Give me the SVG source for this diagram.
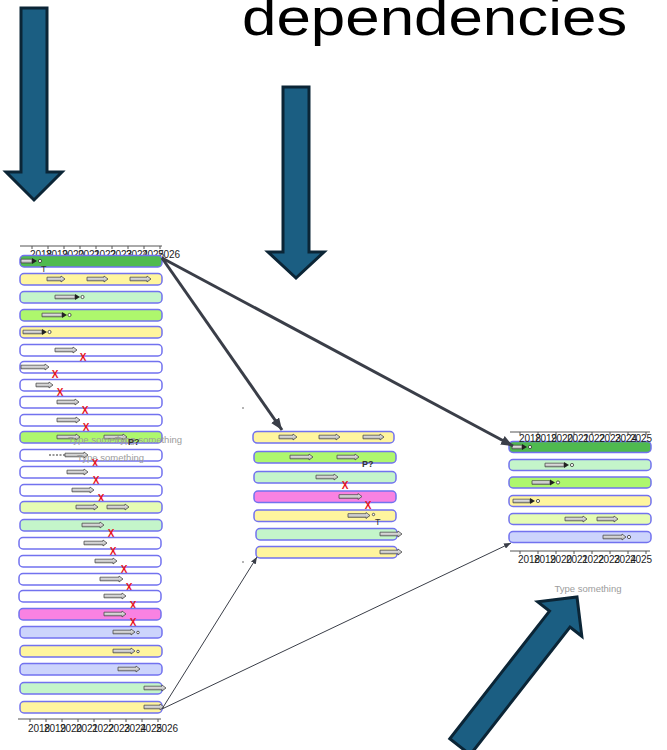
<svg xmlns="http://www.w3.org/2000/svg" width="667" height="750" viewBox="0 0 667 750">
  <defs>
    <linearGradient id="chip" x1="0" y1="0" x2="0" y2="1">
      <stop offset="0" stop-color="#f4f4f4"/>
      <stop offset="1" stop-color="#a9a9a9"/>
    </linearGradient>
    <marker id="headThick" viewBox="0 0 10 8" refX="10" refY="4" markerUnits="userSpaceOnUse" markerWidth="12" markerHeight="10" orient="auto">
      <path d="M0,0 L10,4 L0,8 Z" fill="#3a3e48"/>
    </marker>
    <marker id="headThin" viewBox="0 0 10 8" refX="10" refY="4" markerUnits="userSpaceOnUse" markerWidth="7" markerHeight="6" orient="auto">
      <path d="M0,0 L10,4 L0,8 Z" fill="#3a3e48"/>
    </marker>
  </defs>
  <style>
    .row{stroke:#7272ef;stroke-width:1.5}
    .dg{fill:#4fba4f}.yl{fill:#fff59e}.lg{fill:#c4f5ca}.lm{fill:#aef76d}
    .wh{fill:#ffffff}.pyg{fill:#e5fcb3}.pk{fill:#f982e2}.lv{fill:#ccd4fc}
    .chip{fill:url(#chip);stroke:#4a4a4a;stroke-width:0.8;stroke-linejoin:round}
    .tri{fill:#222}
    .dot{fill:#fff;stroke:#333;stroke-width:0.8}
    .yr{font-family:"Liberation Sans",Arial,sans-serif;font-size:10px;fill:#222;text-anchor:middle}
    .ax{stroke:#555;stroke-width:1;fill:none}
    .xm{font-family:"Liberation Sans",Arial,sans-serif;font-size:10px;font-weight:bold;fill:#e8141e;text-anchor:middle;dominant-baseline:central}
    .lbl{font-family:"Liberation Sans",Arial,sans-serif;font-size:9px;fill:#333}
    .ph{font-family:"Liberation Sans",Arial,sans-serif;font-size:9.5px;fill:#9c9c9c}
    .big{fill:#1b5e82;stroke:#0b2536;stroke-width:3;stroke-linejoin:miter}
    .thick{stroke:#3a3e48;stroke-width:3;fill:none}
    .thin{stroke:#3a3e48;stroke-width:1;fill:none}
  </style>

  <!-- heading, widened glyphs -->
  <text transform="translate(242,35) scale(1.19,1)" x="0" y="0" font-family="'Liberation Sans',Arial,sans-serif" font-size="52" fill="#000">dependencies</text>

  <!-- large pointer arrows -->
  <g id="pointer-left"><polygon class="big" points="21,8 47,8 47,172 62,172 34,200 6,172 21,172"/></g>
  <g id="pointer-middle"><polygon class="big" points="283,87 309,87 309,252 324,252 296,278 268,252 283,252"/></g>
  <g id="pointer-right"><polygon class="big" transform="translate(577,597) rotate(38)" points="0,0 28,28 13,28 13,190 -13,190 -13,28 -28,28"/></g>

  <!-- full timeline (left) -->
  <g id="timeline-full">
    <g id="axis-full-top">
      <path class="ax" d="M20,246 H162 M32,246 v3 M48,246 v3 M64,246 v3 M80,246 v3 M96,246 v3 M112,246 v3 M128,246 v3 M144,246 v3 M160,246 v3"/>
      <text class="yr" x="41" y="258">2018</text><text class="yr" x="57" y="258">2019</text><text class="yr" x="73" y="258">2020</text>
      <text class="yr" x="89" y="258">2021</text><text class="yr" x="105" y="258">2022</text><text class="yr" x="121" y="258">2023</text>
      <text class="yr" x="137" y="258">2024</text><text class="yr" x="153" y="258">2025</text><text class="yr" x="169" y="258">2026</text>
    </g>
    <g id="f01"><rect class="row dg" x="20" y="255.5" width="142" height="11.5" rx="4"/>
      <path class="chip" d="M21,259.2 H32 V263 H21 Z"/><path class="tri" d="M32,258 L37,261 L32,264 Z"/><circle class="dot" cx="40" cy="261" r="1.6"/>
      <text class="lbl" x="41" y="272">T</text></g>
    <g id="f02"><rect class="row yl" x="20" y="273.5" width="142" height="11.5" rx="4"/>
      <path class="chip" d="M47,277.2 H61 V276 L65,279 L61,282 V280.8 H47 Z"/>
      <path class="chip" d="M87,277.2 H104 V276 L108,279 L104,282 V280.8 H87 Z"/>
      <path class="chip" d="M130,277.2 H147 V276 L151,279 L147,282 V280.8 H130 Z"/></g>
    <g id="f03"><rect class="row lg" x="20" y="291.5" width="142" height="11.5" rx="4"/>
      <path class="chip" d="M55,295.2 H75 V298.8 H55 Z"/><path class="tri" d="M75,294 L80,297 L75,300 Z"/><circle class="dot" cx="82.5" cy="297" r="1.6"/></g>
    <g id="f04"><rect class="row lm" x="20" y="309.5" width="142" height="11.5" rx="4"/>
      <path class="chip" d="M42,313.2 H62 V316.8 H42 Z"/><path class="tri" d="M62,312 L67,315 L62,318 Z"/><circle class="dot" cx="69.5" cy="315" r="1.6"/></g>
    <g id="f05"><rect class="row yl" x="20" y="326.5" width="142" height="11.5" rx="4"/>
      <path class="chip" d="M23,330.2 H42 V333.8 H23 Z"/><path class="tri" d="M42,329 L47,332 L42,335 Z"/><circle class="dot" cx="49.5" cy="332" r="1.6"/></g>
    <g id="f06"><rect class="row wh" x="20" y="344.5" width="142" height="11.5" rx="4"/>
      <path class="chip" d="M55,348.2 H73 V347 L77,350 L73,353 V351.8 H55 Z"/><text class="xm" x="83" y="357">X</text></g>
    <g id="f07"><rect class="row wh" x="20" y="361.5" width="142" height="11.5" rx="4"/>
      <path class="chip" d="M21,365.2 H45 V364 L49,367 L45,370 V368.8 H21 Z"/><text class="xm" x="55" y="374">X</text></g>
    <g id="f08"><rect class="row wh" x="20" y="379.5" width="142" height="11.5" rx="4"/>
      <path class="chip" d="M36,383.2 H49 V382 L53,385 L49,388 V386.8 H36 Z"/><text class="xm" x="60" y="392">X</text></g>
    <g id="f09"><rect class="row wh" x="20" y="396.5" width="142" height="11.5" rx="4"/>
      <path class="chip" d="M57,400.2 H75 V399 L79,402 L75,405 V403.8 H57 Z"/><text class="xm" x="85" y="410">X</text></g>
    <g id="f10"><rect class="row wh" x="20" y="414.5" width="142" height="11.5" rx="4"/>
      <path class="chip" d="M57,418.2 H76 V417 L80,420 L76,423 V421.8 H57 Z"/><text class="xm" x="86" y="427">X</text></g>
    <g id="f11"><rect class="row lm" x="20" y="431.5" width="142" height="11.5" rx="4"/>
      <path class="chip" d="M57,435.2 H76 V434 L80,437 L76,440 V438.8 H57 Z"/>
      <path class="chip" d="M104,435.2 H123 V434 L127,437 L123,440 V438.8 H104 Z"/>
      <text class="ph" x="68" y="443">Type something</text><text class="ph" x="115" y="443">Type something</text>
      <text class="lbl" x="128" y="445" font-weight="bold">P?</text></g>
    <g id="f12"><rect class="row wh" x="20" y="449.5" width="142" height="11.5" rx="4"/>
      <path d="M49,455 H65" stroke="#333" stroke-width="1.2" stroke-dasharray="2,1.5"/>
      <path class="chip" d="M65,453.2 H84 V452 L88,455 L84,458 V456.8 H65 Z"/>
      <text class="ph" x="77" y="461">Type something</text><text class="xm" x="95" y="463">X</text></g>
    <g id="f13"><rect class="row wh" x="20" y="466.5" width="142" height="11.5" rx="4"/>
      <path class="chip" d="M67,470.2 H84 V469 L88,472 L84,475 V473.8 H67 Z"/><text class="xm" x="96" y="480">X</text></g>
    <g id="f14"><rect class="row wh" x="20" y="484.5" width="142" height="11.5" rx="4"/>
      <path class="chip" d="M72,488.2 H90 V487 L94,490 L90,493 V491.8 H72 Z"/><text class="xm" x="101" y="498">X</text></g>
    <g id="f15"><rect class="row pyg" x="20" y="501.5" width="142" height="11.5" rx="4"/>
      <path class="chip" d="M76,505.2 H94 V504 L98,507 L94,510 V508.8 H76 Z"/>
      <path class="chip" d="M107,505.2 H125 V504 L129,507 L125,510 V508.8 H107 Z"/></g>
    <g id="f16"><rect class="row lg" x="20" y="519.5" width="142" height="11.5" rx="4"/>
      <path class="chip" d="M82,523.2 H100 V522 L104,525 L100,528 V526.8 H82 Z"/><text class="xm" x="111" y="533">X</text></g>
    <g id="f17"><rect class="row wh" x="19" y="537.5" width="142" height="11.5" rx="4"/>
      <path class="chip" d="M84,541.2 H103 V540 L107,543 L103,546 V544.8 H84 Z"/><text class="xm" x="113" y="551">X</text></g>
    <g id="f18"><rect class="row wh" x="19" y="555.5" width="142" height="11.5" rx="4"/>
      <path class="chip" d="M95,559.2 H113 V558 L117,561 L113,564 V562.8 H95 Z"/><text class="xm" x="124" y="569">X</text></g>
    <g id="f19"><rect class="row wh" x="19" y="573.5" width="142" height="11.5" rx="4"/>
      <path class="chip" d="M100,577.2 H119 V576 L123,579 L119,582 V580.8 H100 Z"/><text class="xm" x="129" y="587">X</text></g>
    <g id="f20"><rect class="row wh" x="19" y="590.5" width="142" height="11.5" rx="4"/>
      <path class="chip" d="M104,594.2 H122 V593 L126,596 L122,599 V597.8 H104 Z"/><text class="xm" x="133" y="605">X</text></g>
    <g id="f21"><rect class="row pk" x="19" y="608.5" width="142" height="11.5" rx="4"/>
      <path class="chip" d="M104,612.2 H122 V611 L126,614 L122,617 V615.8 H104 Z"/><text class="xm" x="133" y="622">X</text></g>
    <g id="f22"><rect class="row lv" x="20" y="626.5" width="142" height="11.5" rx="4"/>
      <path class="chip" d="M113,630.2 H131 V629 L135,632 L131,635 V633.8 H113 Z"/><circle class="dot" cx="138" cy="632.5" r="1.3"/></g>
    <g id="f23"><rect class="row yl" x="20" y="645.5" width="142" height="11.5" rx="4"/>
      <path class="chip" d="M113,649.2 H131 V648 L135,651 L131,654 V652.8 H113 Z"/><circle class="dot" cx="138" cy="651.5" r="1.3"/></g>
    <g id="f24"><rect class="row lv" x="20" y="663.5" width="142" height="11.5" rx="4"/>
      <path class="chip" d="M118,667.2 H136 V666 L140,669 L136,672 V670.8 H118 Z"/></g>
    <g id="f25"><rect class="row lg" x="20" y="682.5" width="142" height="11.5" rx="4"/>
      <path class="chip" d="M144,686.2 H162 V685 L166,688 L162,691 V689.8 H144 Z"/></g>
    <g id="f26"><rect class="row yl" x="20" y="701.5" width="142" height="11.5" rx="4"/>
      <path class="chip" d="M144,705.2 H160 V704 L164,707 L160,710 V708.8 H144 Z"/></g>
    <g id="axis-full-bottom">
      <path class="ax" d="M18,719 H161 M30,719 v3 M46,719 v3 M62,719 v3 M78,719 v3 M94,719 v3 M110,719 v3 M126,719 v3 M142,719 v3 M158,719 v3"/>
      <text class="yr" x="39" y="732">2018</text><text class="yr" x="55" y="732">2019</text><text class="yr" x="71" y="732">2020</text>
      <text class="yr" x="87" y="732">2021</text><text class="yr" x="103" y="732">2022</text><text class="yr" x="119" y="732">2023</text>
      <text class="yr" x="135" y="732">2024</text><text class="yr" x="151" y="732">2025</text><text class="yr" x="167" y="732">2026</text>
    </g>
  </g>

  <!-- blocked subset (middle) -->
  <g id="timeline-blocked">
    <g id="m1"><rect class="row yl" x="253" y="431.5" width="141" height="11.5" rx="4"/>
      <path class="chip" d="M279,435.2 H293 V434 L297,437 L293,440 V438.8 H279 Z"/>
      <path class="chip" d="M319,435.2 H336 V434 L340,437 L336,440 V438.8 H319 Z"/>
      <path class="chip" d="M363,435.2 H380 V434 L384,437 L380,440 V438.8 H363 Z"/></g>
    <g id="m2"><rect class="row lm" x="254" y="451.5" width="142" height="11.5" rx="4"/>
      <path class="chip" d="M290,455.2 H309 V454 L313,457 L309,460 V458.8 H290 Z"/>
      <path class="chip" d="M337,455.2 H355 V454 L359,457 L355,460 V458.8 H337 Z"/>
      <text class="lbl" x="362" y="467" font-weight="bold">P?</text></g>
    <g id="m3"><rect class="row lg" x="254" y="471.5" width="142" height="11.5" rx="4"/>
      <path class="chip" d="M316,475.2 H334 V474 L338,477 L334,480 V478.8 H316 Z"/><text class="xm" x="345" y="485">X</text></g>
    <g id="m4"><rect class="row pk" x="254" y="491" width="142" height="11.5" rx="4"/>
      <path class="chip" d="M339,494.7 H358 V493.5 L362,496.5 L358,499.5 V498.3 H339 Z"/><text class="xm" x="368" y="505">X</text></g>
    <g id="m5"><rect class="row yl" x="254" y="510" width="142" height="11.5" rx="4"/>
      <path class="chip" d="M348,513.7 H366 V512.5 L370,515.5 L366,518.5 V517.3 H348 Z"/><circle class="dot" cx="373.5" cy="514.5" r="1.2"/>
      <text class="lbl" x="375" y="525">T</text></g>
    <g id="m6"><rect class="row lg" x="256" y="528.5" width="141" height="11.5" rx="4"/>
      <path class="chip" d="M380,532.2 H398 V531 L402,534 L398,537 V535.8 H380 Z"/></g>
    <g id="m7"><rect class="row yl" x="256" y="546.5" width="141" height="11.5" rx="4"/>
      <path class="chip" d="M380,550.2 H398 V549 L402,552 L398,555 V553.8 H380 Z"/></g>
  </g>

  <!-- completed subset (right) -->
  <g id="timeline-done">
    <g id="axis-done-top">
      <path class="ax" d="M510,432 H650 M520,432 v3 M538,432 v3 M556,432 v3 M574,432 v3 M592,432 v3 M610,432 v3 M628,432 v3 M646,432 v3"/>
    </g>
    <g id="r1"><rect class="row dg" x="509" y="441.5" width="142" height="11" rx="4"/>
      <path class="chip" d="M512,445.2 H522 V448.8 H512 Z"/><path class="tri" d="M522,444 L527,447 L522,450 Z"/><circle class="dot" cx="530" cy="447" r="1.6"/></g>
    <g id="r2"><rect class="row lg" x="509" y="459.5" width="142" height="11" rx="4"/>
      <path class="chip" d="M545,463.2 H564 V466.8 H545 Z"/><path class="tri" d="M564,462 L569,465 L564,468 Z"/><circle class="dot" cx="572" cy="465" r="1.6"/></g>
    <g id="r3"><rect class="row lm" x="509" y="477" width="142" height="11" rx="4"/>
      <path class="chip" d="M532,480.7 H550 V484.3 H532 Z"/><path class="tri" d="M550,479.5 L555,482.5 L550,485.5 Z"/><circle class="dot" cx="558" cy="482.5" r="1.6"/></g>
    <g id="r4"><rect class="row yl" x="509" y="495.5" width="142" height="11" rx="4"/>
      <path class="chip" d="M513,499.2 H530 V502.8 H513 Z"/><path class="tri" d="M530,498 L535,501 L530,504 Z"/><circle class="dot" cx="538" cy="501" r="1.6"/></g>
    <g id="r5"><rect class="row pyg" x="509" y="513.5" width="142" height="11" rx="4"/>
      <path class="chip" d="M565,517.2 H583 V516 L587,519 L583,522 V520.8 H565 Z"/>
      <path class="chip" d="M597,517.2 H614 V516 L618,519 L614,522 V520.8 H597 Z"/></g>
    <g id="r6"><rect class="row lv" x="509" y="531.5" width="142" height="11" rx="4"/>
      <path class="chip" d="M603,535.2 H622 V534 L626,537 L622,540 V538.8 H603 Z"/><circle class="dot" cx="629" cy="537" r="1.6"/></g>
    <g id="years-done-top">
      <text class="yr" x="530" y="442">2018</text><text class="yr" x="546" y="442">2019</text><text class="yr" x="562" y="442">2020</text>
      <text class="yr" x="578" y="442">2021</text><text class="yr" x="594" y="442">2022</text><text class="yr" x="610" y="442">2023</text>
      <text class="yr" x="626" y="442">2024</text><text class="yr" x="641" y="442">2025</text>
    </g>
    <g id="axis-done-bottom">
      <path class="ax" d="M510,551 H650 M520,551 v3 M538,551 v3 M556,551 v3 M574,551 v3 M592,551 v3 M610,551 v3 M628,551 v3 M646,551 v3"/>
      <text class="yr" x="529" y="563">2018</text><text class="yr" x="545" y="563">2019</text><text class="yr" x="561" y="563">2020</text>
      <text class="yr" x="577" y="563">2021</text><text class="yr" x="593" y="563">2022</text><text class="yr" x="609" y="563">2023</text>
      <text class="yr" x="625" y="563">2024</text><text class="yr" x="641" y="563">2025</text>
    </g>
    <text class="ph" x="588" y="592" text-anchor="middle">Type something</text>
  </g>

  <!-- connectors -->
  <g id="connectors">
    <line class="thick" x1="162" y1="258" x2="282" y2="430" marker-end="url(#headThick)"/>
    <line class="thick" x1="162" y1="258" x2="513" y2="446" marker-end="url(#headThick)"/>
    <line class="thin" x1="162" y1="709" x2="257" y2="557" marker-end="url(#headThin)"/>
    <line class="thin" x1="162" y1="709" x2="511" y2="543" marker-end="url(#headThin)"/>
    <circle cx="243" cy="408" r="0.8" fill="#555"/>
    <circle cx="243" cy="562" r="0.8" fill="#555"/>
  </g>
</svg>
